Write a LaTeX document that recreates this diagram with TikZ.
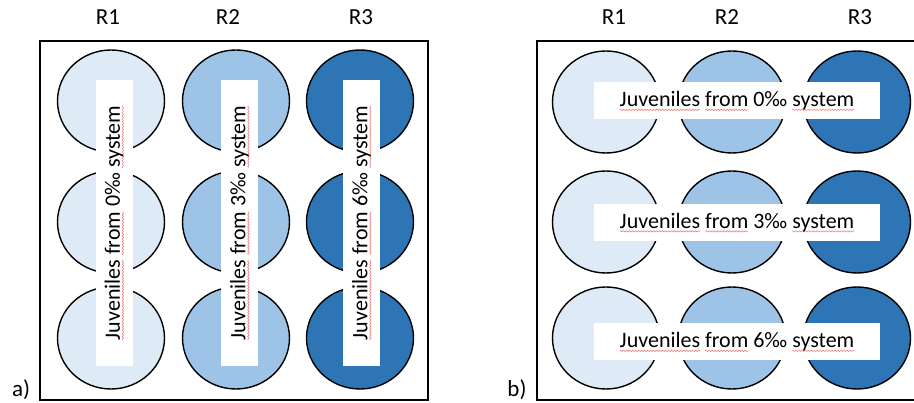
\documentclass[tikz,border=0pt]{standalone}
\usepackage{fontspec}
\setmainfont{Carlito}
\usetikzlibrary{shapes.geometric,decorations.pathmorphing}
\definecolor{cone}{HTML}{DEEBF7}
\definecolor{ctwo}{HTML}{9DC3E6}
\definecolor{cthree}{HTML}{2E75B6}
\definecolor{wavered}{HTML}{F07070}
\newsavebox\wordbox
\newlength\wordwd
\newcommand\spellwave[1]{\sbox\wordbox{#1}\setlength\wordwd{\wd\wordbox}%
  \rlap{\tikz[baseline=0pt]{\useasboundingbox (0pt,0pt) rectangle (0pt,0pt);
    \draw[wavered, line width=0.5pt, decorate, decoration={snake, segment length=3pt, amplitude=0.7pt}] (0pt,-3pt) -- (\wordwd,-3pt);}}%
  \usebox\wordbox}
\newcommand\juvtext[1]{\spellwave{Juveniles} \spellwave{from} #1‰ \spellwave{system}}
\tikzset{
  well/.style={ellipse, draw=black, line width=1.4pt, minimum width=107pt, minimum height=102pt, inner sep=0pt},
  strip/.style={fill=white, inner sep=0pt, minimum width=286pt, minimum height=37pt, font=\fontsize{22}{26}\selectfont},
  lab/.style={font=\fontsize{23}{27}\selectfont, inner sep=0pt},
  frame/.style={draw=black, line width=1.6pt}
}
\begin{document}
\begin{tikzpicture}[x=1pt,y=-1pt]
\useasboundingbox (0,0) rectangle (914,403);
% ---------- panel a ----------
\draw[frame] (40,41) rectangle (428,400);
\foreach \r/\y in {1/101,2/222,3/338}{
  \node[well, fill=cone]   (a\r1) at (111,\y) {};
  \node[well, fill=ctwo]   (a\r2) at (236,\y) {};
  \node[well, fill=cthree] (a\r3) at (360,\y) {};
}
\node[strip, rotate=90] (sa1) at (114,223) {\juvtext{0}};
\node[strip, rotate=90] (sa2) at (239.5,223) {\juvtext{3}};
\node[strip, rotate=90] (sa3) at (361.5,223) {\juvtext{6}};
\node[lab] (ra1) at (108,17.5) {R1};
\node[lab] (ra2) at (228,17.5) {R2};
\node[lab] (ra3) at (361,17.5) {R3};
\node[lab] (la) at (21,390) {a)};
% ---------- panel b ----------
\draw[frame] (914,41) -- (537,41) -- (537,400) -- (914,400);
\foreach \r/\y in {1/102,2/222,3/338}{
  \node[well, fill=cone]   (b\r1) at (606,\y) {};
  \node[well, fill=ctwo]   (b\r2) at (732,\y) {};
  \node[well, fill=cthree] (b\r3) at (857,\y) {};
}
\node[strip] (sb1) at (737,101) {\juvtext{0}};
\node[strip] (sb2) at (737,222.5) {\juvtext{3}};
\node[strip] (sb3) at (737,342) {\juvtext{6}};
\node[lab] (rb1) at (614,17.5) {R1};
\node[lab] (rb2) at (727,17.5) {R2};
\node[lab] (rb3) at (860,17.5) {R3};
\node[lab] (lb) at (517,390) {b)};
\end{tikzpicture}
\end{document}
